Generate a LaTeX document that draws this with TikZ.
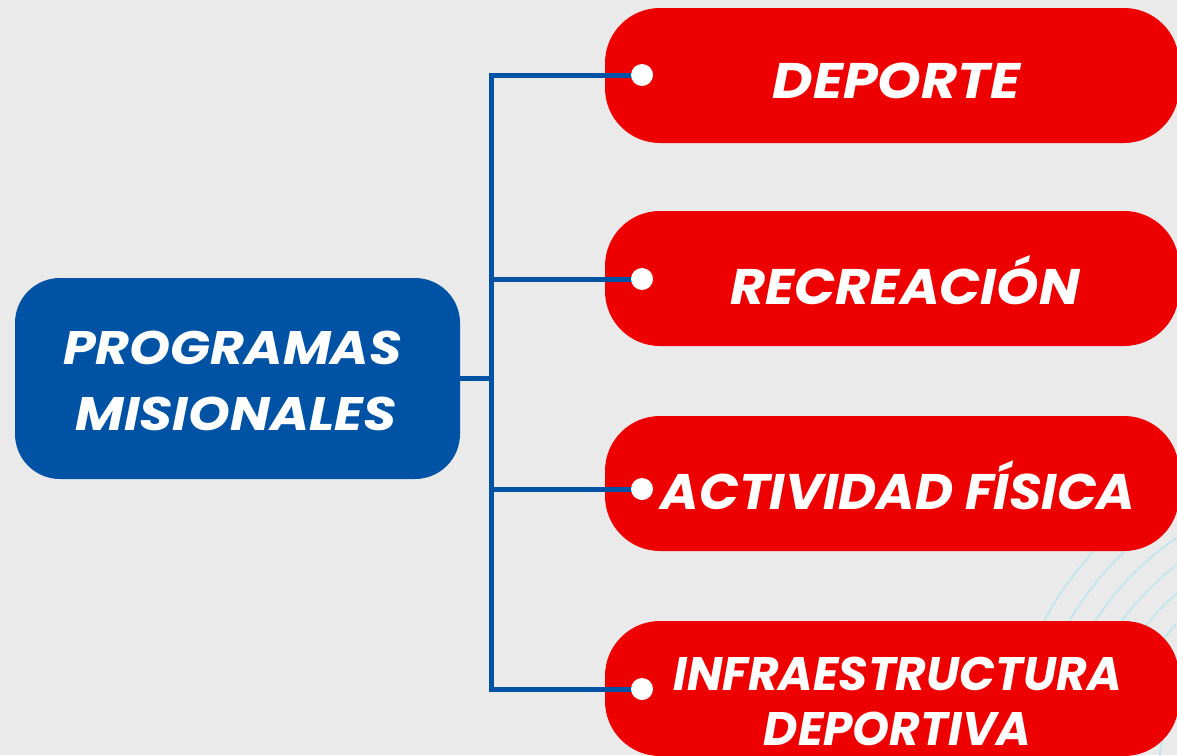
\documentclass[tikz,border=0pt]{standalone}
\usepackage{fontspec}
\newfontfamily\pop{Poppins}
\newcommand\hsc[2]{\scalebox{#1}[1]{#2}}
\definecolor{bgc}{RGB}{234,234,234}
\definecolor{redc}{RGB}{238,0,0}
\definecolor{bluec}{RGB}{0,82,165}
\definecolor{arcc}{RGB}{196,230,236}
\tikzset{
  redbox/.style={fill=redc, draw=none, rounded corners=55pt, minimum width=574pt, minimum height=135pt, inner sep=0pt},
  bluebox/.style={fill=bluec, draw=none, rounded corners=45pt, minimum width=445pt, minimum height=201pt, inner sep=0pt},
  lbl/.style={text=white, font=\pop\bfseries\itshape\fontsize{50}{55}\selectfont, inner sep=0pt, anchor=base},
  slbl/.style={text=white, font=\pop\bfseries\itshape\fontsize{47}{55}\selectfont, inner sep=0pt, anchor=base},
  blbl/.style={text=white, font=\pop\bfseries\itshape\fontsize{47}{67}\selectfont, inner sep=0pt, anchor=base},
  conn/.style={draw=bluec, line width=5pt},
  dotc/.style={circle, fill=white, draw=none, minimum size=22pt, inner sep=0pt},
  arcline/.style={draw=arcc, line width=2pt}
}
\begin{document}
\begin{tikzpicture}[x=1pt,y=-1pt]
\useasboundingbox (0,0) rectangle (1177,755);
\fill[bgc] (0,0) rectangle (1177,755);
\begin{scope}
\clip (0,0) rectangle (1177,755);
\foreach \r in {160,182,...,340} \draw[arcline] (1340,780) circle[radius=\r pt];
\node[redbox] (b1) at (892,75.5) {};
\node[redbox] (b2) at (892,278.5) {};
\node[redbox] (b3) at (892,483.5) {};
\node[redbox] (b4) at (892,688.5) {};
\end{scope}
\node[bluebox] (pm) at (237.5,378.5) {};
\coordinate (j) at (491.5,378.5);
\coordinate (c1) at (642,75);
\coordinate (c2) at (642,279);
\coordinate (c3) at (642,489);
\coordinate (c4) at (642,689);
\draw[conn] (c1) -| (j |- c4) -- (c4);
\draw[conn] (j |- c2) -- (c2);
\draw[conn] (j |- c3) -- (c3);
\draw[conn] (pm.east) -- (j);
\node[dotc] (p1) at (c1) {};
\node[dotc] (p2) at (c2) {};
\node[dotc] (p3) at (c3) {};
\node[dotc] (p4) at (c4) {};
\node[lbl] (t1) at (896.5,98) {\hsc{1.11}{DEPORTE}};
\node[lbl] (t2) at (905,304) {\hsc{1.08}{RECREACIÓN}};
\node[lbl] (t3) at (898,509) {\hsc{1.044}{ACTIVIDAD FÍSICA}};
\node[slbl] (t4a) at (897.5,690) {INFRAESTRUCTURA};
\node[slbl] (t4b) at (897.5,745) {DEPORTIVA};
\node[blbl] (m1) at (232.5,364) {\hsc{1.11}{PROGRAMAS}};
\node[blbl] (m2) at (236,430) {\hsc{1.13}{MISIONALES}};
\end{tikzpicture}
\end{document}
